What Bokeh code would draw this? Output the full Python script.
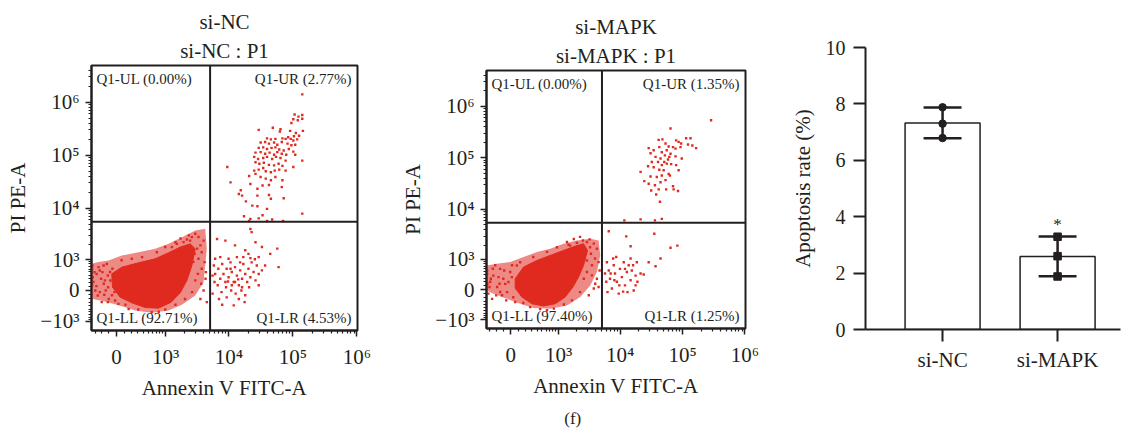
import numpy as np
from bokeh.plotting import figure
from bokeh.layouts import row, column
from bokeh.models import Range1d, FixedTicker, Span, Label, Title
from bokeh.embed import file_html
from bokeh.resources import INLINE
from bokeh.core.properties import value

FONT = "Liberation Serif"
RED = "#E02A20"
INK = "#231F20"

# ---------------- flow cytometry: biexponential (arcsinh) display scale ----------------
CX = 353.0   # linear width of Annexin V FITC-A axis
CY = 559.0   # linear width of PI PE-A axis


def bx(v):
    return np.arcsinh(np.asarray(v, float) / CX) / np.log(10)


def by(v):
    return np.arcsinh(np.asarray(v, float) / CY) / np.log(10)


X_LIM = (-361.0, 1.02e6)
Y_LIM = (-1540.0, 4.9e6)
GATE_X = 5100.0
GATE_Y = 5500.0
TICK_VALS = [-1000, 0, 1e3, 1e4, 1e5, 1e6]
TICK_TEXT = ["\u221210\u00b3", "0", "10\u00b3", "10\u2074", "10\u2075", "10\u2076"]
MINOR_VALS = ([-k * 100 for k in range(1, 10)] + [k * 100 for k in range(1, 10)]
              + [k * 10 ** d for d in range(3, 7) for k in range(2, 10)])

# event positions read on the display scale (decades of the biexponential axes)
# ---- si-NC ----
nc_quadrants = {"UL": 0.00, "UR": 2.77, "LL": 92.71, "LR": 4.53}
nc_core_x = [-0.073, 0.083, 0.344, 0.604, 0.813, 0.995, 1.151, 1.229, 1.177, 1.099, 0.995, 0.854, 0.656, 0.448, 0.24, 0.057, -0.062]
nc_core_y = [0.314, 0.44, 0.522, 0.597, 0.711, 0.818, 0.88, 0.786, 0.472, 0.189, -0.044, -0.22, -0.333, -0.321, -0.233, -0.126, 0.063]
nc_halo_x = [-0.39, -0.281, -0.125, 0.083, 0.344, 0.604, 0.813, 1.021, 1.229, 1.385, 1.41, 1.359, 1.229, 1.021, 0.813, 0.552, 0.292, 0.083, -0.177, -0.39]
nc_halo_y = [0.503, 0.535, 0.566, 0.66, 0.723, 0.786, 0.88, 1.006, 1.132, 1.163, 0.786, 0.157, -0.094, -0.27, -0.377, -0.42, -0.377, -0.296, -0.208, -0.157]
nc_ll_x = [-0.38, -0.36, -0.31, -0.26, -0.20, -0.18, -0.13, -0.10, -0.07, -0.33, -0.23, -0.37, -0.15, -0.05, -0.28, -0.19, -0.12,
           0.92, 1.00, 1.07, 1.13, 1.15, 1.23, 1.28, 1.31, 1.33, 1.36, 1.26, 1.20, 1.28, 1.33, 1.39, 1.36, 1.31, 1.41, 1.23, 1.18,
           0.14, 0.34, 0.55, 0.76, 0.92, 1.07, 0.19, 0.66, 0.76, 0.63, 0.40, 0.08, 0.24]
nc_ll_y = [0.41, 0.16, 0.31, -0.03, 0.47, 0.19, 0.06, 0.35, -0.09, 0.00, -0.22, 0.25, 0.50, 0.22, 0.44, -0.08, -0.16,
           0.91, 0.98, 0.76, 1.04, 0.94, 1.07, 1.01, 0.85, 0.72, 0.94, 0.79, 0.54, 0.60, 0.41, 0.22, 0.00, -0.16, -0.22, 0.19, -0.03,
           -0.27, -0.36, -0.41, -0.36, -0.27, -0.16, -0.35, -0.40, 0.82, 0.72, 0.63, 0.57, 0.60]
nc_edge_x = [-0.38, -0.344, -0.292, -0.24, -0.219, -0.167, -0.135, -0.094, -0.063, -0.031, -0.375, -0.198, -0.313, -0.26, -0.135, -0.021, 0.031,
             0.865, 0.943, 1.047, 1.099, 1.177, 1.021, 1.219, 1.125, 1.375, 1.396, 1.271, 1.323]
nc_edge_y = [0.094, 0.346, -0.094, 0.22, 0.346, 0.0, 0.283, 0.189, 0.409, -0.031, 0.472, 0.126, 0.082, 0.377, -0.22, -0.189, -0.252,
             0.818, 0.88, 0.912, 0.962, 1.006, 0.66, 0.692, 0.597, 0.535, 0.346, 0.314, 0.126]
nc_lr_x = [1.57, 1.70, 1.85, 2.01, 2.09, 2.11, 2.17, 2.27, 2.40, 2.51, 2.53, 2.22, 1.93, 2.06,
           1.52, 1.54, 1.59, 1.62, 1.65, 1.67, 1.70, 1.72, 1.75, 1.78, 1.80, 1.83, 1.85, 1.88, 1.91, 1.93, 1.96, 1.98, 2.01, 2.04,
           2.06, 2.09, 2.11, 2.14, 2.17, 2.19, 2.22, 2.16,
           1.58, 1.64, 1.71, 1.79, 1.86, 1.95, 2.01, 2.07, 1.53, 1.50, 1.60, 1.72, 1.83, 1.91, 2.00, 1.80, 1.75, 1.88, 1.62,
           2.22, 2.27, 2.32, 2.09, 1.54, 1.50, 1.65, 1.85, 1.96, 1.74, 1.90, 1.78, 1.98]
nc_lr_y = [0.97, 0.94, 0.85, 0.76, 1.16, 1.10, 0.91, 0.82, 0.69, 0.79, 0.44, 0.63, 0.53, 0.69,
           0.47, 0.31, 0.41, 0.22, 0.50, 0.31, 0.16, 0.41, 0.25, 0.53, 0.35, 0.16, 0.44, 0.28, 0.10, 0.38, 0.22, 0.50, 0.31, 0.16,
           0.41, 0.25, 0.53, 0.35, 0.19, 0.47, 0.31, 0.59,
           0.10, -0.03, 0.06, 0.00, -0.06, 0.00, -0.09, 0.06, 0.16, -0.06, -0.16, -0.13, -0.28, -0.16, -0.22, 0.10, 0.60, 0.63, 0.63,
           0.10, 0.38, 0.47, 0.61, 0.60, 0.28, -0.27, 0.16, 0.06, 0.17, 0.21, 0.41, 0.63]
nc_ur_x = [2.78, 2.84, 2.90, 2.76, 2.83, 2.90, 2.73, 2.22, 2.44, 2.56, 2.55, 2.71, 2.91, 2.80, 2.85, 2.77,
           2.35, 2.41, 2.48, 2.59, 2.64, 2.68, 2.72, 2.76, 2.82,
           2.25, 2.32, 2.38, 2.46, 2.51, 2.58, 2.67, 2.73, 2.79,
           2.22, 2.29, 2.35, 2.42, 2.48, 2.54, 2.61, 2.69, 2.76,
           2.17, 2.25, 2.32, 2.39, 2.46, 2.51, 2.58, 2.65, 2.79,
           2.15, 2.21, 2.29, 2.35, 2.43, 2.49, 2.56, 2.64, 2.90,
           2.17, 2.23, 2.30, 2.38, 2.46, 2.53, 2.59, 2.76,
           2.15, 2.22, 2.29, 2.33, 2.41, 2.47, 2.54, 2.64,
           1.73, 2.07, 2.17, 2.25, 2.33, 2.41, 2.48, 2.58, 1.78,
           1.94, 2.09, 2.20, 2.28, 2.38, 2.59,
           1.91, 2.02, 2.20, 2.38, 2.41, 2.61, 1.96,
           2.12, 2.20, 2.35, 2.28, 1.99, 2.22, 2.09, 2.43, 2.90, 2.07, 2.35, 2.60, 2.90]
nc_ur_y = [3.32, 3.28, 3.31, 3.23, 3.21, 3.24, 3.16, 3.03, 3.07, 3.04, 3.00, 3.01, 3.01, 2.97, 2.92, 2.91,
           2.87, 2.85, 2.86, 2.87, 2.86, 2.89, 2.86, 2.83, 2.85,
           2.79, 2.80, 2.77, 2.79, 2.75, 2.80, 2.77, 2.74, 2.75,
           2.69, 2.70, 2.67, 2.69, 2.70, 2.66, 2.64, 2.67, 2.62,
           2.60, 2.61, 2.58, 2.60, 2.56, 2.61, 2.58, 2.56, 2.56,
           2.52, 2.48, 2.50, 2.52, 2.48, 2.52, 2.50, 2.45, 2.45,
           2.42, 2.39, 2.41, 2.37, 2.36, 2.39, 2.35, 2.33,
           2.26, 2.28, 2.31, 2.25, 2.23, 2.26, 2.28, 2.26,
           2.33, 2.16, 2.20, 2.14, 2.11, 2.08, 2.14, 1.95, 2.04,
           1.89, 2.01, 1.92, 1.98, 1.99, 2.08,
           1.82, 1.68, 1.79, 1.80, 1.73, 1.74, 1.79,
           1.60, 1.59, 1.54, 1.42, 1.40, 1.36, 1.35, 1.34, 1.45, 1.31, 1.31, 1.31, 3.70]

# ---- si-MAPK ----
mk_quadrants = {"UL": 0.00, "UR": 1.35, "LL": 97.40, "LR": 1.25}
mk_core_x = [0.07, 0.204, 0.418, 0.632, 0.845, 1.033, 1.166, 1.23, 1.166, 1.086, 0.995, 0.872, 0.712, 0.525, 0.337, 0.177, 0.07]
mk_core_y = [0.209, 0.435, 0.564, 0.661, 0.758, 0.841, 0.887, 0.758, 0.467, 0.241, 0.048, -0.146, -0.275, -0.32, -0.275, -0.146, 0.029]
mk_halo_x = [-0.385, -0.224, -0.01, 0.204, 0.418, 0.632, 0.845, 1.059, 1.273, 1.407, 1.434, 1.38, 1.273, 1.113, 0.899, 0.632, 0.364, 0.15, -0.064, -0.278, -0.385]
mk_halo_y = [0.467, 0.5, 0.532, 0.629, 0.725, 0.79, 0.887, 0.951, 0.983, 0.951, 0.661, 0.338, 0.08, -0.145, -0.307, -0.371, -0.358, -0.275, -0.178, -0.081, -0.017]
mk_ll_x = [-0.38, -0.33, -0.28, -0.22, -0.17, -0.12, -0.06, -0.01, -0.36, -0.25, -0.14, 0.04, -0.30, -0.09, 0.02,
           0.90, 1.01, 1.11, 1.22, 1.27, 1.33, 1.38, 1.35, 1.30, 1.22, 1.17, 1.38, 1.33, 1.11, 1.25, 0.95, 1.17,
           0.31, 0.47, 0.69, 0.85, 0.98, 0.20, 0.58, 0.58, 0.36, 0.15, 0.74]
mk_ll_y = [0.37, 0.15, 0.27, 0.05, 0.40, 0.21, -0.05, 0.34, -0.08, 0.47, -0.11, -0.15, -0.18, 0.11, 0.47,
           0.92, 0.98, 1.02, 0.92, 0.82, 0.89, 0.79, 0.60, 0.47, 0.34, 0.21, 0.21, 0.02, -0.05, -0.11, 0.85, 0.79,
           -0.34, -0.38, -0.37, -0.29, -0.21, -0.26, -0.40, 0.73, 0.63, 0.53, 0.82]
mk_edge_x = [-0.38, -0.342, -0.288, -0.197, -0.171, -0.106, -0.037, 0.017, -0.374, -0.235, -0.074, 0.07, -0.32, -0.181, 0.097,
             0.926, 1.059, 1.156, 1.263, 1.102, 1.284, 1.22, 1.407, 1.423, 1.3, 1.353, 1.407]
mk_edge_y = [0.306, 0.048, 0.403, 0.241, -0.049, 0.37, 0.145, 0.241, 0.112, -0.113, -0.21, -0.242, 0.209, 0.112, 0.467,
             0.867, 0.906, 0.951, 0.971, 0.661, 0.693, 0.564, 0.532, 0.37, 0.274, 0.112, 0.048]
mk_lr_x = [1.57, 1.85, 2.30, 1.92, 2.56, 2.67, 2.21, 2.40, 2.32, 2.13,
           1.54, 1.57, 1.59, 1.62, 1.65, 1.67, 1.70, 1.73, 1.75, 1.78, 1.81, 1.83, 1.86, 1.89, 1.92, 1.94, 1.97, 2.00, 2.02, 2.03,
           1.53, 1.55, 1.64, 1.69, 1.80, 1.87, 1.96, 2.00, 1.74, 1.66, 1.60, 1.83, 1.92, 1.51, 2.08]
mk_lr_y = [1.13, 1.03, 1.08, 0.84, 0.81, 0.85, 0.53, 0.60, 0.45, 0.29,
           0.53, 0.37, 0.21, 0.02, 0.47, 0.31, 0.15, -0.08, 0.40, 0.24, 0.53, 0.08, 0.34, 0.47, 0.18, 0.37, -0.02, 0.27, 0.53, 0.15,
           0.15, -0.05, 0.60, 0.63, -0.04, -0.05, 0.47, 0.08, 0.08, 0.18, 0.31, 0.40, 0.60, 0.31, 0.31]
mk_ur_x = [3.21, 2.56, 2.37, 2.43, 2.65, 2.69, 2.73, 2.81, 2.88, 2.84, 2.97, 2.91,
           2.21, 2.29, 2.38, 2.48, 2.53, 2.60, 2.64, 2.72, 2.42, 2.50, 2.56,
           2.24, 2.32, 2.40, 2.47, 2.54, 2.64, 2.74, 2.26, 2.36, 2.42, 2.50, 2.57, 2.65,
           2.20, 2.29, 2.38, 2.45, 2.53, 2.69, 2.08, 2.24, 2.34, 2.42, 2.48, 2.55,
           2.14, 2.21, 2.31, 2.40, 2.60, 2.25, 2.37, 2.49, 2.61, 2.68, 2.33, 2.39,
           1.82, 2.08, 2.31, 2.42, 2.46, 2.52]
mk_ur_y = [3.28, 3.12, 2.90, 2.91, 2.89, 2.86, 2.83, 2.93, 2.93, 2.81, 2.74, 2.79,
           2.74, 2.70, 2.76, 2.83, 2.77, 2.76, 2.73, 2.76, 2.66, 2.70, 2.63,
           2.64, 2.57, 2.54, 2.60, 2.57, 2.58, 2.54, 2.47, 2.47, 2.41, 2.44, 2.43, 2.41,
           2.39, 2.37, 2.32, 2.31, 2.24, 2.31, 2.28, 2.19, 2.18, 2.21, 2.12, 2.21,
           2.10, 2.05, 2.02, 2.08, 2.00, 1.92, 1.94, 1.94, 1.94, 1.91, 1.84, 1.70,
           1.34, 1.36, 1.34, 1.37, 2.47, 2.52]

# ---------------- bar chart ----------------
groups = ["si-NC", "si-MAPK"]
nc_rate = [7.88, 7.30, 6.79]
mapk_rate = [3.29, 2.60, 1.88]
significance = ["", "*"]


def style_axis(ax, tick_size="20px"):
    ax.axis_line_width = 2
    ax.axis_line_color = INK
    ax.major_tick_line_width = 1.5
    ax.minor_tick_line_width = 1.2
    ax.major_tick_line_color = INK
    ax.minor_tick_line_color = INK
    ax.major_tick_in = 0
    ax.minor_tick_in = 0
    ax.major_label_text_font = FONT
    ax.major_label_text_font_size = tick_size
    ax.major_label_text_color = INK
    ax.axis_label_text_font = FONT
    ax.axis_label_text_font_size = "21px"
    ax.axis_label_text_font_style = "normal"
    ax.axis_label_text_color = INK


def flow_panel(sample, quad, core, halo, events, width, height, borders):
    left, right, top, bottom = borders
    x0, x1 = float(bx(X_LIM[0])), float(bx(X_LIM[1]))
    y0, y1 = float(by(Y_LIM[0])), float(by(Y_LIM[1]))
    p = figure(width=width, height=height, x_range=Range1d(x0, x1), y_range=Range1d(y0, y1),
               output_backend="svg", toolbar_location=None, frame_align=False,
               min_border_left=left, min_border_right=right,
               min_border_top=top, min_border_bottom=bottom)
    p.grid.visible = False
    p.outline_line_color = INK
    p.outline_line_width = 2
    p.outline_line_alpha = 1

    p.patch(halo[0], halo[1], fill_color=RED, fill_alpha=0.55, line_color=None)
    p.patch(core[0], core[1], fill_color=RED, line_color=RED, line_width=1)
    for ex, ey in events:
        p.scatter(ex, ey, marker="square", size=2.4, fill_color=RED, line_color=None)

    p.add_layout(Span(location=float(bx(GATE_X)), dimension="height", line_color=INK, line_width=2))
    p.add_layout(Span(location=float(by(GATE_Y)), dimension="width", line_color=INK, line_width=2))

    xt = [round(float(bx(v)), 4) for v in TICK_VALS]
    yt = [round(float(by(v)), 4) for v in TICK_VALS]
    p.xaxis.ticker = FixedTicker(ticks=xt, minor_ticks=[round(float(bx(v)), 4) for v in MINOR_VALS])
    p.yaxis.ticker = FixedTicker(ticks=yt, minor_ticks=[round(float(by(v)), 4) for v in MINOR_VALS])
    p.xaxis.major_label_overrides = dict(zip(xt, TICK_TEXT))
    p.yaxis.major_label_overrides = dict(zip(yt, TICK_TEXT))
    p.xaxis.axis_label = "Annexin V FITC-A"
    p.yaxis.axis_label = "PI PE-A"
    for ax in (p.xaxis[0], p.yaxis[0]):
        style_axis(ax, "21px")
        ax.major_tick_out = 6
        ax.minor_tick_out = 3
    p.xaxis.major_label_standoff = 8
    p.xaxis.axis_label_standoff = 4
    p.yaxis.major_label_standoff = 6
    p.yaxis.axis_label_standoff = 7

    fw = width - left - right
    fh = height - top - bottom
    ux = (x1 - x0) / fw
    uy = (y1 - y0) / fh
    pos = {"UL": (x0 + 5 * ux, y1 - 13 * uy, "left"),
           "UR": (x1 - 6 * ux, y1 - 13 * uy, "right"),
           "LL": (x0 + 5 * ux, y0 + 13 * uy, "left"),
           "LR": (x1 - 6 * ux, y0 + 13 * uy, "right")}
    for key, pct in quad.items():
        lx, ly, al = pos[key]
        p.add_layout(Label(x=lx, y=ly, text=f"Q1-{key} ({pct:.2f}%)", text_font=FONT,
                           text_font_size="15px", text_color=INK, text_align=al,
                           text_baseline="middle"))

    p.add_layout(Title(text=f"{sample} : P1", align="center", text_font=FONT, text_font_size="21px",
                       text_font_style="normal", text_color=INK, standoff=5), "above")
    p.add_layout(Title(text=sample, align="center", text_font=FONT, text_font_size="21px",
                       text_font_style="normal", text_color=INK, standoff=1), "above")
    return p


ROW_H = 408
p1 = flow_panel("si-NC", nc_quadrants, (nc_core_x, nc_core_y), (nc_halo_x, nc_halo_y),
                [(nc_ll_x, nc_ll_y), (nc_edge_x, nc_edge_y), (nc_lr_x, nc_lr_y), (nc_ur_x, nc_ur_y)],
                396, ROW_H, (91, 39, 65, 78))
p2 = flow_panel("si-MAPK", mk_quadrants, (mk_core_x, mk_core_y), (mk_halo_x, mk_halo_y),
                [(mk_ll_x, mk_ll_y), (mk_edge_x, mk_edge_y), (mk_lr_x, mk_lr_y), (mk_ur_x, mk_ur_y)],
                384, ROW_H, (90, 35, 70, 80))

# ---- bar chart ----
reps = [nc_rate, mapk_rate]
xs = np.arange(1, len(groups) + 1, dtype=float)
means = np.array([np.mean(r) for r in reps])
sds = np.array([np.std(r, ddof=1) for r in reps])
lo, hi = means - sds, means + sds

p3 = figure(width=342, height=ROW_H, x_range=Range1d(0.33, 2.547), y_range=Range1d(0, 10),
            output_backend="svg", toolbar_location=None, frame_align=False,
            min_border_left=85, min_border_right=2, min_border_top=47, min_border_bottom=79)
p3.grid.visible = False
p3.outline_line_color = None
p3.vbar(x=xs, top=means, width=0.652, bottom=0, fill_color="white", line_color=INK, line_width=1.5)
cap = 0.165
p3.segment(x0=xs, y0=lo, x1=xs, y1=hi, line_color=INK, line_width=2.5)
p3.segment(x0=xs - cap, y0=hi, x1=xs + cap, y1=hi, line_color=INK, line_width=2.5)
p3.segment(x0=xs - cap, y0=lo, x1=xs + cap, y1=lo, line_color=INK, line_width=2.5)
markers = ["circle", "square"]
for xi, r, mk in zip(xs, reps, markers):
    p3.scatter([xi] * len(r), r, marker=mk, size=7.5, fill_color=INK, line_color=INK)
p3.text(x=xs, y=hi + 0.08, text=significance, text_font=value(FONT), text_font_size="17px",
        text_align="center", text_baseline="bottom", text_color=INK)
p3.xaxis.ticker = FixedTicker(ticks=list(xs))
p3.xaxis.major_label_overrides = {float(x): g for x, g in zip(xs, groups)}
p3.yaxis.ticker = FixedTicker(ticks=[0, 2, 4, 6, 8, 10])
p3.yaxis.axis_label = "Apoptosis rate (%)"
style_axis(p3.xaxis[0], "21px")
style_axis(p3.yaxis[0], "20px")
for ax in (p3.xaxis[0], p3.yaxis[0]):
    ax.major_tick_out = 12
    ax.major_tick_line_width = 2
    ax.minor_tick_line_color = None
p3.xaxis.major_label_standoff = 6
p3.yaxis.major_label_standoff = 8
p3.yaxis.axis_label_standoff = 8

# ---- panel caption ----
capfig = figure(width=1122, height=22, x_range=Range1d(0, 1), y_range=Range1d(0, 1),
                output_backend="svg", toolbar_location=None, min_border=0,
                x_axis_type=None, y_axis_type=None)
capfig.outline_line_color = None
capfig.text(x=[0.51], y=[0.55], text=["(f)"], text_font=value(FONT), text_font_size="17px",
            text_align="center", text_baseline="middle", text_color=INK)

layout = column(row(p1, p2, p3), capfig)
open("out.html", "w").write(file_html(layout, INLINE))
